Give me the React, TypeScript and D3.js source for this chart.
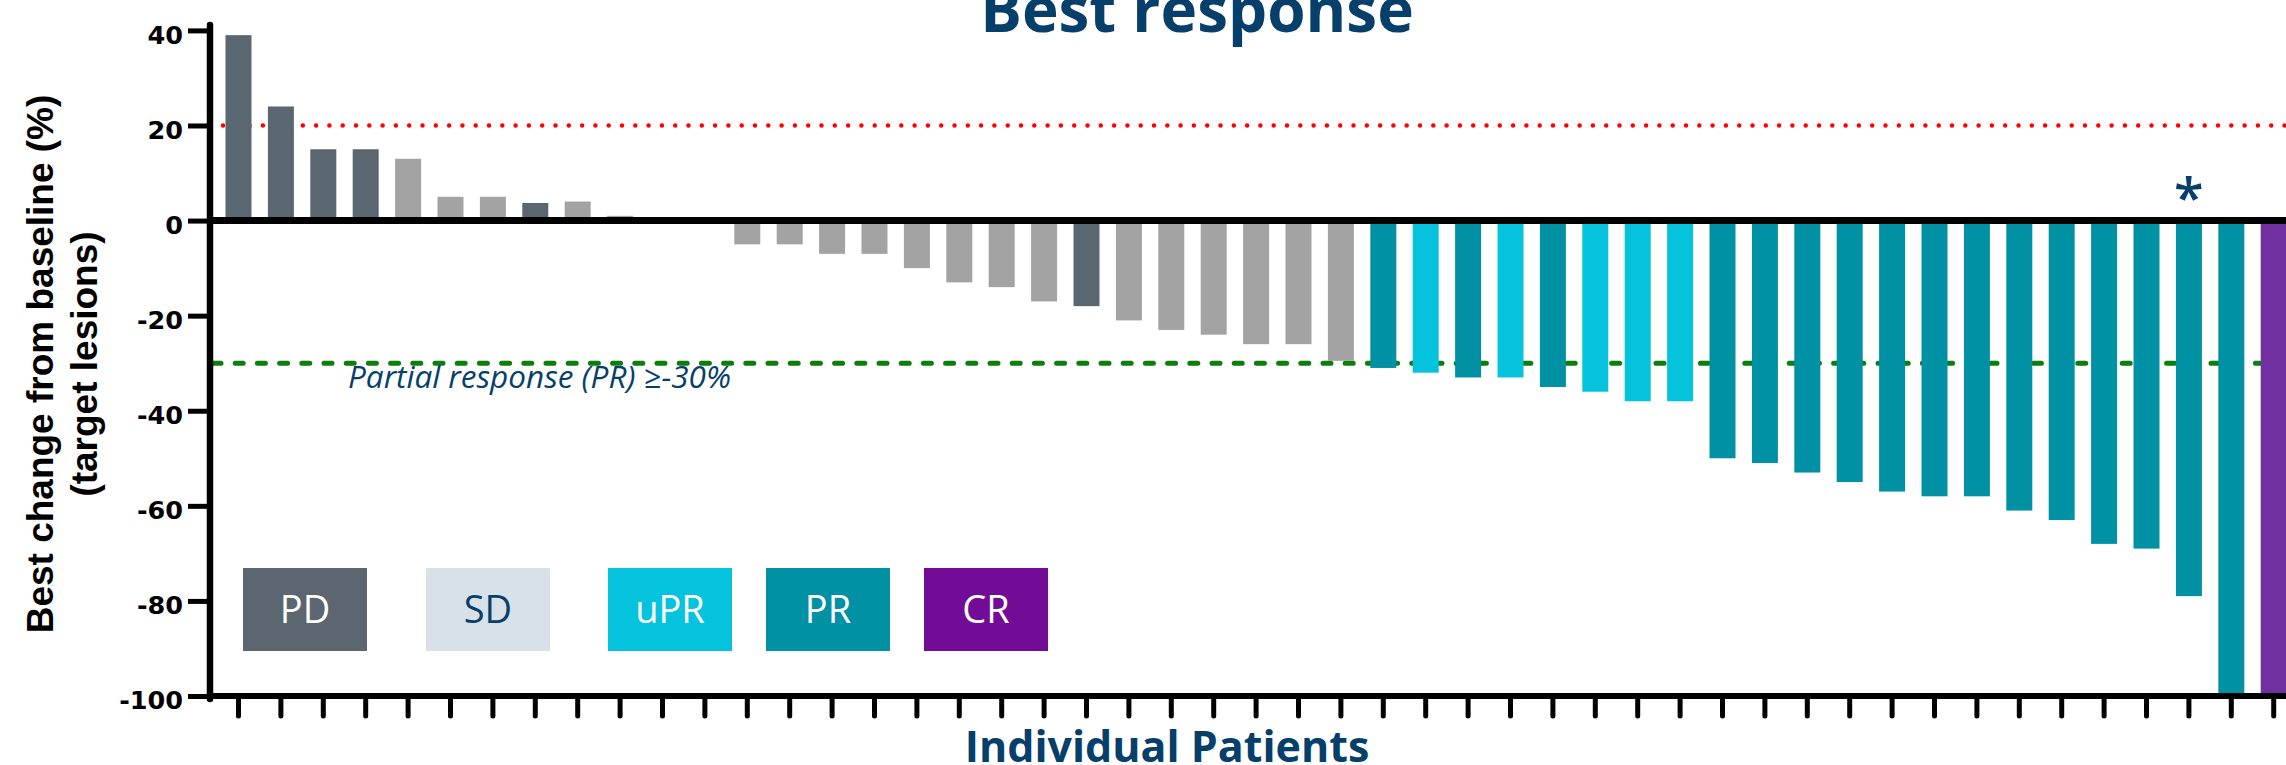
import React, { useEffect, useRef } from 'react';
import * as d3 from 'd3';

// best change from baseline (%), one bar per patient, waterfall order
const changes = [
  39, 24, 15, 15, 13, 5, 5, 3.7, 4, 1,
  0, 0, -5, -5, -7, -7, -10, -13, -14, -17,
  -18, -21, -23, -24, -26, -26, -29.5, -31, -32, -33,
  -33, -35, -36, -38, -38, -50, -51, -53, -55, -57,
  -58, -58, -61, -63, -68, -69, -79, -100, -100,
];

// best overall response per patient
const responses = [
  'PD', 'PD', 'PD', 'PD', 'SD', 'SD', 'SD', 'PD', 'SD', 'SD',
  'SD', 'SD', 'SD', 'SD', 'SD', 'SD', 'SD', 'SD', 'SD', 'SD',
  'PD', 'SD', 'SD', 'SD', 'SD', 'SD', 'SD', 'PR', 'uPR', 'PR',
  'uPR', 'PR', 'uPR', 'uPR', 'uPR', 'PR', 'PR', 'PR', 'PR', 'PR',
  'PR', 'PR', 'PR', 'PR', 'PR', 'PR', 'PR', 'PR', 'CR',
];

const legendLabels = ['PD', 'SD', 'uPR', 'PR', 'CR'];
const yTicks = [40, 20, 0, -20, -40, -60, -80, -100];
const thresholds = [20, -30]; // progression / partial response lines
const starredPatient = 46;

const barColor: Record<string, string> = {
  PD: '#5a6670', SD: '#a3a3a3', uPR: '#05c3dd', PR: '#0091a5', CR: '#7030a0',
};
const legendColor: Record<string, string> = {
  PD: '#5b6670', SD: '#d9e1e8', uPR: '#05c3dd', PR: '#0091a5', CR: '#720b95',
};
const navy = '#073f6b';

export default function App() {
  const ref = useRef<SVGSVGElement>(null);

  useEffect(() => {
    if (!ref.current) return;
    const W = 2286;
    const axisX = 210;
    const svg = d3.select(ref.current);
    svg.selectAll('*').remove();

    const ids = d3.range(changes.length);
    const x = d3.scaleBand<number>()
      .domain(ids)
      .range([225.5, 2286.7])
      .paddingInner(0.387)
      .paddingOuter(0);
    const y = d3.scaleLinear().domain([-100, 40]).range([696, 30.4]);

    // title (runs off the top edge, as in the slide)
    svg.append('text')
      .attr('x', 1197).attr('y', 32)
      .attr('text-anchor', 'middle')
      .style('font-family', '"Open Sans"').style('font-weight', 700)
      .style('font-size', '62px').attr('fill', navy)
      .text('Best response');

    // threshold lines (behind bars)
    svg.append('line')
      .attr('x1', 223).attr('x2', W)
      .attr('y1', y(thresholds[0])).attr('y2', y(thresholds[0]))
      .attr('stroke', '#ff0000').attr('stroke-width', 4.5)
      .attr('stroke-linecap', 'round').attr('stroke-dasharray', '0 13.3');
    svg.append('line')
      .attr('x1', 213).attr('x2', W)
      .attr('y1', y(thresholds[1])).attr('y2', y(thresholds[1]))
      .attr('stroke', '#0b7e0b').attr('stroke-width', 5)
      .attr('stroke-linecap', 'round').attr('stroke-dasharray', '8 14.2');

    svg.append('text')
      .attr('x', 348).attr('y', 388)
      .style('font-family', '"Open Sans"').style('font-style', 'italic')
      .style('font-size', '31.5px').attr('fill', navy)
      .text('Partial response (PR) ≥-30%');

    // bars
    svg.append('g').selectAll('rect')
      .data(ids)
      .join('rect')
      .attr('x', i => x(i)!)
      .attr('width', x.bandwidth())
      .attr('y', i => Math.min(y(changes[i]), y(0)))
      .attr('height', i => Math.abs(y(changes[i]) - y(0)))
      .attr('fill', i => barColor[responses[i]]);

    // asterisk
    svg.append('text')
      .attr('x', x(starredPatient)! + x.bandwidth() / 2).attr('y', 217)
      .attr('text-anchor', 'middle')
      .style('font-family', '"Open Sans"').style('font-weight', 600)
      .style('font-size', '54px').attr('fill', navy)
      .text('*');

    // zero line
    svg.append('line')
      .attr('x1', axisX).attr('x2', W)
      .attr('y1', y(0)).attr('y2', y(0))
      .attr('stroke', '#000').attr('stroke-width', 7);

    // y axis
    const gy = svg.append('g')
      .attr('transform', `translate(${axisX},0)`)
      .call(d3.axisLeft(y).tickValues(yTicks).tickSize(22).tickPadding(5).tickFormat(d => String(d)));
    gy.select('.domain').remove();
    gy.selectAll('.tick line').attr('stroke', '#000').attr('stroke-width', 5);
    gy.selectAll('.tick text')
      .attr('dy', '0.5em')
      .style('font-family', '"DejaVu Sans"').style('font-weight', 700)
      .style('font-size', '25.5px').attr('fill', '#000');
    svg.append('line')
      .attr('x1', axisX).attr('x2', axisX)
      .attr('y1', 25).attr('y2', 699)
      .attr('stroke', '#000').attr('stroke-width', 6.5).attr('stroke-linecap', 'round');

    // x axis
    const gx = svg.append('g')
      .attr('transform', `translate(0,${y(-100)})`)
      .call(d3.axisBottom(x).tickSize(20).tickSizeOuter(0).tickFormat(() => ''));
    gx.select('.domain').remove();
    gx.selectAll('.tick line').attr('stroke', '#000').attr('stroke-width', 5).attr('stroke-linecap', 'round');
    svg.append('line')
      .attr('x1', axisX - 3).attr('x2', W)
      .attr('y1', y(-100)).attr('y2', y(-100))
      .attr('stroke', '#000').attr('stroke-width', 6);

    svg.append('text')
      .attr('x', 1167).attr('y', 762)
      .attr('text-anchor', 'middle')
      .style('font-family', '"Open Sans"').style('font-weight', 700)
      .style('font-size', '43px').attr('fill', navy)
      .text('Individual Patients');

    // y axis title, two lines
    const yTitle = [['Best change from baseline (%)', 53], ['(target lesions)', 97]] as const;
    yTitle.forEach(([t, bx]) => {
      svg.append('text')
        .attr('transform', `translate(${bx},364) rotate(-90)`)
        .attr('text-anchor', 'middle')
        .style('font-family', '"Liberation Sans", Arial').style('font-weight', 700)
        .style('font-size', '37px').attr('fill', '#000')
        .text(t);
    });

    // legend
    const legendX = [243, 426, 608, 766, 924];
    const lg = svg.append('g').selectAll('g')
      .data(legendLabels)
      .join('g')
      .attr('transform', (d, i) => `translate(${legendX[i]},568)`);
    lg.append('rect')
      .attr('width', 124).attr('height', 83)
      .attr('fill', d => legendColor[d]);
    lg.append('text')
      .attr('x', 62).attr('y', 55)
      .attr('text-anchor', 'middle')
      .style('font-family', '"Open Sans"').style('font-size', '38px')
      .attr('fill', d => (d === 'SD' ? navy : '#fff'))
      .text(d => d);
  }, []);

  return (
    <div>
      <style>{'body{margin:0}'}</style>
      <svg ref={ref} width={2286} height={765} style={{ display: 'block', background: '#fff' }} />
    </div>
  );
}
